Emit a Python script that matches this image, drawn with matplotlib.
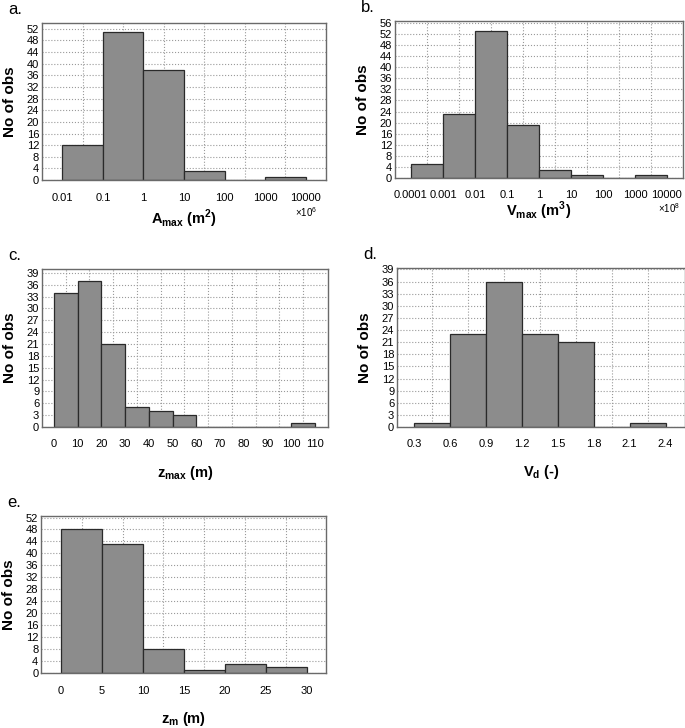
import numpy as np
import matplotlib
matplotlib.use("Agg")
import matplotlib.pyplot as plt

plt.rcParams["font.family"] = ["Liberation Sans", "DejaVu Sans"]
plt.rcParams["mathtext.fontset"] = "custom"
plt.rcParams["mathtext.rm"] = "Liberation Sans"
plt.rcParams["mathtext.bf"] = "Liberation Sans:bold"

# a. A_max (x10^6 m2), log bins
a_edges = [0.01, 0.1, 1, 10, 100, 1000, 10000]
a_labels = ["0.01", "0.1", "1", "10", "100", "1000", "10000"]
a_counts = [12, 51, 38, 3, 0, 1]

# b. V_max (x10^8 m3), log bins
b_edges = [0.0001, 0.001, 0.01, 0.1, 1, 10, 100, 1000, 10000]
b_labels = ["0.0001", "0.001", "0.01", "0.1", "1", "10", "100", "1000", "10000"]
b_counts = [5, 23, 53, 19, 3, 1, 0, 1]

# c. z_max (m)
c_edges = [0, 10, 20, 30, 40, 50, 60, 70, 80, 90, 100, 110]
c_counts = [34, 37, 21, 5, 4, 3, 0, 0, 0, 0, 1]

# d. V_d (-)
d_edges = [0.3, 0.6, 0.9, 1.2, 1.5, 1.8, 2.1, 2.4]
d_labels = ["0.3", "0.6", "0.9", "1.2", "1.5", "1.8", "2.1", "2.4"]
d_counts = [1, 23, 36, 23, 21, 0, 1]

# e. z_m (m)
e_edges = [0, 5, 10, 15, 20, 25, 30]
e_counts = [48, 43, 8, 1, 3, 2]

BAR = "#8c8c8c"
EDGE = "#2a2a2a"
GRID = "#9a9a9a"
W, H = 685, 728


def hist_panel(ax, edges, counts, yticks, ylim, xlim, xlabel, tag, xlab_off,
               log=False, labels=None):
    # xlab_off: pixels from bottom of axes to centre of x label
    bb = ax.get_position()
    wpx, hpx = bb.width * W, bb.height * H
    edges = np.array(edges, dtype=float)
    if log:
        ax.set_xscale("log")
        mids = np.sqrt(edges[:-1] * edges[1:])
    else:
        mids = (edges[:-1] + edges[1:]) / 2
    ax.bar(edges[:-1], counts, width=np.diff(edges), align="edge",
           color=BAR, edgecolor=EDGE, linewidth=0.9, zorder=2)
    ax.set_axisbelow(True)
    ax.set_xlim(*xlim)
    ax.set_ylim(*ylim)
    ax.set_xticks(edges)
    ax.set_xticklabels(labels if labels else [f"{v:g}" for v in edges])
    ax.set_xticks(mids, minor=True)
    ax.set_xticklabels([], minor=True)
    ax.set_yticks(yticks)
    ax.tick_params(axis="both", which="both", length=0, labelsize=8)
    ax.tick_params(axis="x", pad=9)
    ax.tick_params(axis="y", pad=2)
    ax.grid(axis="y", which="major", linestyle=":", color=GRID, linewidth=0.8)
    ax.grid(axis="x", which="minor", linestyle=":", color=GRID, linewidth=0.8)
    for s in ax.spines.values():
        s.set_color("#6a6a6a")
        s.set_linewidth(1.0)
    ax.set_ylabel("No of obs", fontsize=11, fontweight="bold", va="center")
    ax.yaxis.set_label_coords(-32 / wpx, 0.5)
    ax.set_xlabel(xlabel, fontsize=10.5, fontweight="bold", va="center")
    ax.xaxis.set_label_coords(0.5, -xlab_off / hpx)
    ax.text(-34 / wpx, 1 + 9 / hpx, tag, transform=ax.transAxes, fontsize=12,
            va="baseline")
    return wpx, hpx


fig = plt.figure(figsize=(6.85, 7.28), dpi=100)

ax_a = fig.add_axes([0.0613, 0.7527, 0.4146, 0.2157])
wpx, hpx = hist_panel(ax_a, a_edges, a_counts, range(0, 53, 4), (0, 54),
                      (10 ** -2.5, 10 ** 4.5), r"A$_{\mathbf{max}}$ (m$^{\mathbf{2}}$)",
                      "a.", 39, log=True, labels=a_labels)
ax_a.text(253 / wpx, -32 / hpx, r"$\times$10$^6$", transform=ax_a.transAxes,
          fontsize=7, va="center")

ax_b = fig.add_axes([0.5766, 0.7555, 0.4204, 0.2157])
wpx, hpx = hist_panel(ax_b, b_edges, b_counts, range(0, 57, 4), (0, 56.7),
                      (10 ** -4.5, 10 ** 4.5), r"V$_{\mathbf{max}}$ (m$^{\mathbf{3}}$)",
                      "b.", 33, log=True, labels=b_labels)
ax_b.text(263 / wpx, -30 / hpx, r"$\times$10$^8$", transform=ax_b.transAxes,
          fontsize=7, va="center")

ax_c = fig.add_axes([0.0613, 0.4135, 0.4175, 0.217])
hist_panel(ax_c, c_edges, c_counts, range(0, 40, 3), (0, 40),
           (-5, 115.5), r"z$_{\mathbf{max}}$ (m)", "c.", 46)

ax_d = fig.add_axes([0.5796, 0.4135, 0.42, 0.218])
hist_panel(ax_d, d_edges, d_counts, range(0, 40, 3), (0, 39.3),
           (0.156, 2.56), r"V$_{\mathbf{d}}$ (-)", "d.", 45, labels=d_labels)

ax_e = fig.add_axes([0.0599, 0.0755, 0.416, 0.2157])
hist_panel(ax_e, e_edges, e_counts, range(0, 53, 4), (0, 52.5),
           (-2.45, 32.35), r"z$_{\mathbf{m}}$ (m)", "e.", 46)

fig.savefig("out.png", dpi=100)
